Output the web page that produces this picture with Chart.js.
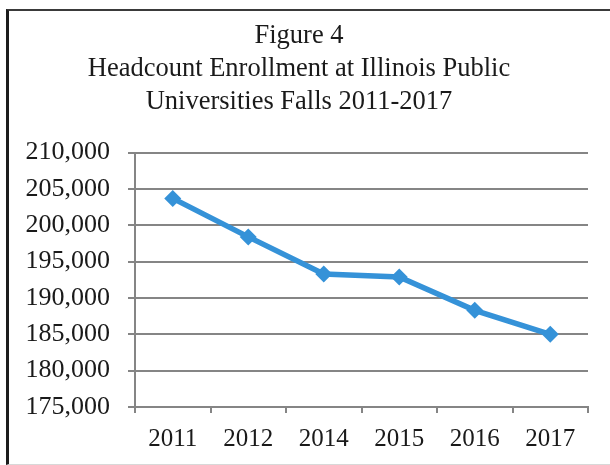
<!DOCTYPE html>
<html>
<head>
<meta charset="utf-8">
<script src="https://cdn.jsdelivr.net/npm/chart.js@4/dist/chart.umd.min.js"></script>
<style>
  html, body { margin: 0; padding: 0; background: #fff; }
  #wrap { position: relative; width: 610px; height: 465px; overflow: hidden; }
  #frame {
    position: absolute; left: 6px; top: 9px; width: 700px; height: 453px;
    border-left: 3px solid #1c1c1c; border-top: 2px solid #3a3a3a;
    border-bottom: 1px solid #d8d8d8;
  }
  canvas { position: absolute; left: 0; top: 0; }
</style>
</head>
<body>
<div id="wrap">
  <div id="frame"></div>
  <canvas id="c" width="610" height="465"></canvas>
</div>
<script>
// Fall headcount enrollment, Illinois public universities
const years = ['2011', '2012', '2014', '2015', '2016', '2017'];
const headcount = [203700, 198400, 193300, 192900, 188300, 185000];
const yMin = 175000;
const yMax = 210000;
const yStep = 5000;
const titleLines = ['Figure 4', 'Headcount Enrollment at Illinois Public', 'Universities Falls 2011-2017'];

const serif = "'Liberation Serif', 'Times New Roman', serif";
const gridGray = '#858585';
const lineBlue = '#3592d8';

new Chart(document.getElementById('c'), {
  type: 'line',
  data: {
    labels: years,
    datasets: [{
      data: headcount,
      borderColor: lineBlue,
      backgroundColor: lineBlue,
      borderWidth: 5.5,
      pointStyle: 'rectRot',
      pointRadius: 8.5,
      pointBorderWidth: 0,
      pointBackgroundColor: lineBlue,
      tension: 0
    }]
  },
  options: {
    responsive: false,
    animation: false,
    devicePixelRatio: 1,
    layout: { padding: { left: 10, right: 22, top: 20, bottom: 0 } },
    plugins: {
      legend: { display: false },
      tooltip: { enabled: false },
      title: {
        display: true,
        text: titleLines,
        color: '#1a1a1a',
        font: { family: serif, size: 26.5, weight: 'normal', lineHeight: 1.24 },
        padding: { top: 0, bottom: 34 }
      }
    },
    scales: {
      x: {
        offset: true,
        grid: {
          offset: true,
          drawOnChartArea: false,
          drawTicks: true,
          tickLength: 6,
          color: gridGray,
          lineWidth: 2
        },
        border: { display: true, color: gridGray, width: 2 },
        ticks: {
          color: '#1a1a1a',
          padding: 11,
          maxRotation: 0,
          font: { family: serif, size: 25 }
        },
        afterFit: (s) => { s.height = 58; }
      },
      y: {
        min: yMin,
        max: yMax,
        ticks: {
          stepSize: yStep,
          color: '#1a1a1a',
          padding: 18,
          font: { family: serif, size: 26 },
          callback: (v) => v.toLocaleString('en-US')
        },
        grid: {
          color: gridGray,
          lineWidth: 2,
          tickLength: 7
        },
        border: { display: true, color: gridGray, width: 2 },
        afterFit: (s) => { s.width = 125; }
      }
    }
  }
});
</script>
</body>
</html>
